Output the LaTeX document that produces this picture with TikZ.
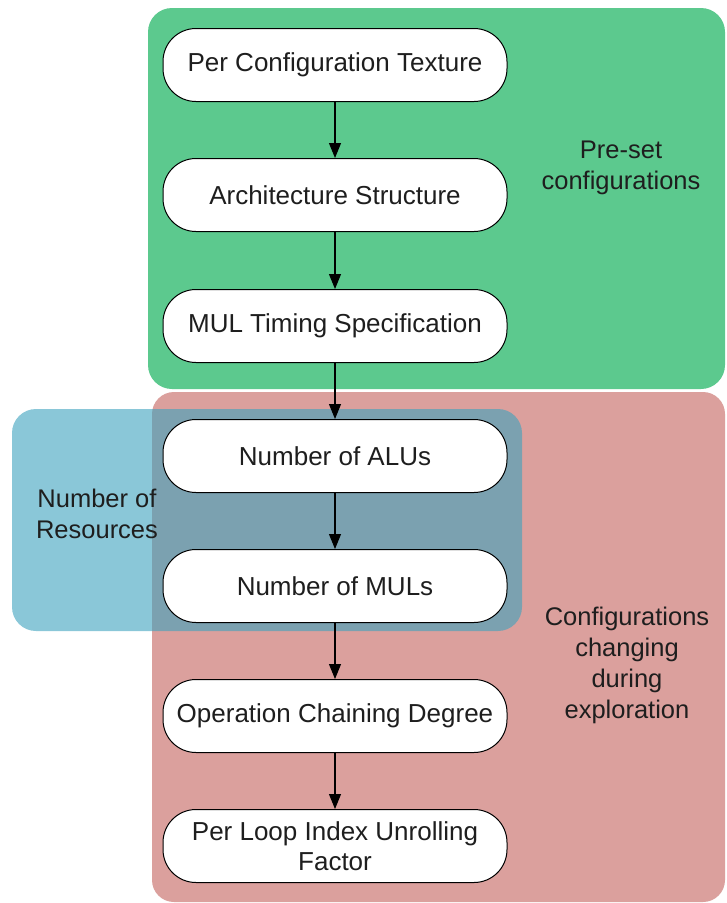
\documentclass[tikz,border=0pt]{standalone}
\usepackage{fontspec}
\setmainfont{Liberation Sans}
\usetikzlibrary{arrows.meta}
\definecolor{presetgreen}{RGB}{92,201,142}
\definecolor{explorered}{RGB}{219,160,157}
\definecolor{resblue}{RGB}{60,163,190}
\definecolor{inktext}{RGB}{30,30,30}
\tikzset{
  stepbox/.style={draw=black, line width=1pt, fill=white, rounded corners=33pt,
    minimum width=344pt, minimum height=73pt, align=center, inner sep=0pt,
    font=\fontsize{26}{30}\selectfont, text=inktext},
  grouplabel/.style={align=center, font=\fontsize{25.5}{31}\selectfont, text=inktext},
  flow/.style={draw=black, line width=1.1pt, -{Triangle[length=15pt,width=12pt]}}
}
\begin{document}
\begin{tikzpicture}[x=1pt,y=-1pt]
\useasboundingbox (0,0) rectangle (727,903);
\fill[white] (0,0) rectangle (727,903);
% group regions
\fill[presetgreen, rounded corners=24pt] (148,8) rectangle (725,389);
\fill[explorered, rounded corners=22pt] (152,392) rectangle (725,902);
\fill[resblue, fill opacity=0.6, rounded corners=24pt] (12,409) rectangle (522,631);
% group labels
\node[grouplabel] (lpreset) at (621,168) {Pre-set\\configurations};
\node[grouplabel] (lres) at (97,514) {Number of\\Resources};
\node[grouplabel] (lchange) at (627,665) {Configurations\\changing\\during\\exploration};
% flow steps
\node[stepbox] (n1) at (335,65) {Per Configuration Texture};
\node[stepbox] (n2) at (335,195) {Architecture Structure};
\node[stepbox] (n3) at (335,326) {MUL Timing Specification};
\node[stepbox] (n4) at (335,456) {Number of ALUs};
\node[stepbox] (n5) at (335,586) {Number of MULs};
\node[stepbox] (n6) at (335,716) {Operation Chaining Degree};
\node[stepbox] (n7) at (335,846) {Per Loop Index Unrolling\\Factor};
% connectors
\draw[flow] (n1) -- (n2);
\draw[flow] (n2) -- (n3);
\draw[flow] (n3) -- (n4);
\draw[flow] (n4) -- (n5);
\draw[flow] (n5) -- (n6);
\draw[flow] (n6) -- (n7);
\end{tikzpicture}
\end{document}
